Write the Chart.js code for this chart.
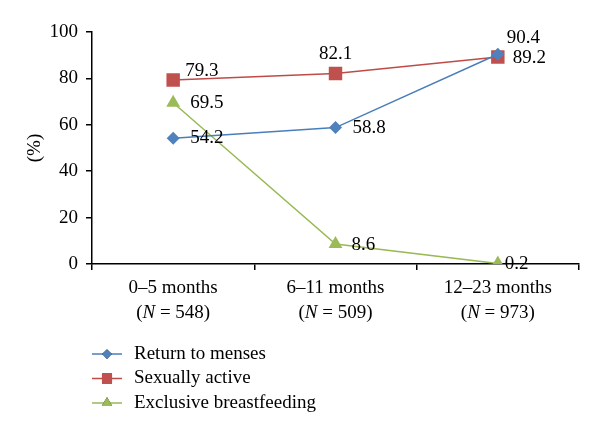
<!DOCTYPE html>
<html>
<head>
<meta charset="utf-8">
<script src="https://cdn.jsdelivr.net/npm/chart.js@4"></script>
<style>
	html, body { margin: 0; padding: 0; background: #fff; }
	#wrap { width: 600px; height: 437px; }
</style>
</head>
<body>
<div id="wrap"><canvas id="chart" width="600" height="437"></canvas></div>
<script>
// categories and group sizes
const ageGroups = ['0–5 months', '6–11 months', '12–23 months'];
const groupN = ['548', '509', '973'];

// series values (%)
const returnToMenses = [54.2, 58.8, 90.4];
const sexuallyActive = [79.3, 82.1, 89.2];
const exclusiveBF = [69.5, 8.6, 0.2];

const yTicks = [0, 20, 40, 60, 80, 100];

const FONT = '"Liberation Serif", "DejaVu Serif", serif';
const SIZE = 19;

// where each value label sits relative to its point [dx, dy]
const labelOffsets = [
	[[17, 0], [17, 0], [9, -16]],
	[[12, -9], [0, -20], [15, 1]],
	[[17, 0], [16, 1], [7, 0]],
];

// draws the x labels (with italic N), the value labels and the legend
const extrasPlugin = {
	id: 'extras',
	afterDraw(chart) {
		const ctx = chart.ctx;
		const xScale = chart.scales.x;
		const bottom = chart.chartArea.bottom;
		const plain = SIZE + 'px ' + FONT;
		const italic = 'italic ' + plain;
		ctx.save();
		ctx.fillStyle = '#000';
		ctx.textBaseline = 'middle';

		// x tick labels
		ageGroups.forEach((label, i) => {
			const x = xScale.getPixelForValue(i);
			ctx.font = plain;
			ctx.textAlign = 'center';
			ctx.fillText(label, x, bottom + 24);

			const parts = ['(', 'N', ' = ' + groupN[i] + ')'];
			const fonts = [plain, italic, plain];
			let total = 0;
			parts.forEach((p, k) => { ctx.font = fonts[k]; total += ctx.measureText(p).width; });
			let cx = x - total / 2;
			ctx.textAlign = 'left';
			parts.forEach((p, k) => {
				ctx.font = fonts[k];
				ctx.fillText(p, cx, bottom + 49);
				cx += ctx.measureText(p).width;
			});
		});

		// value labels
		ctx.font = plain;
		chart.data.datasets.forEach((ds, d) => {
			const meta = chart.getDatasetMeta(d);
			meta.data.forEach((pt, i) => {
				const [dx, dy] = labelOffsets[d][i];
				ctx.textAlign = dx === 0 ? 'center' : 'left';
				ctx.fillText(ds.data[i].toFixed(1), pt.x + dx, pt.y + dy);
			});
		});

		// legend
		chart.data.datasets.forEach((ds, d) => {
			const y = 354 + d * 24.5;
			ctx.strokeStyle = ds.borderColor;
			ctx.lineWidth = 1.5;
			ctx.beginPath();
			ctx.moveTo(92, y);
			ctx.lineTo(122, y);
			ctx.stroke();
			Chart.helpers.drawPoint(ctx, {
				pointStyle: ds.pointStyle,
				radius: ds.pointRadius * 0.75,
				borderWidth: 0,
				rotation: 0,
			}, 107, y);
			ctx.fillStyle = ds.pointBackgroundColor;
			ctx.fill();
			ctx.fillStyle = '#000';
			ctx.textAlign = 'left';
			ctx.fillText(ds.label, 134, y);
		});
		ctx.restore();
	},
};

const ctx = document.getElementById('chart').getContext('2d');
const chart = new Chart(ctx, {
	type: 'line',
	data: {
		labels: ageGroups,
		datasets: [
			{
				label: 'Return to menses',
				data: returnToMenses,
				borderColor: '#4A7EBB',
				borderWidth: 1.5,
				pointStyle: 'rectRot',
				pointRadius: 6.5,
				pointBackgroundColor: '#4F81BD',
				pointBorderWidth: 0,
			},
			{
				label: 'Sexually active',
				data: sexuallyActive,
				borderColor: '#BE4B48',
				borderWidth: 1.5,
				pointStyle: 'rect',
				pointRadius: 9.5,
				pointBackgroundColor: '#C0504D',
				pointBorderWidth: 0,
			},
			{
				label: 'Exclusive breastfeeding',
				data: exclusiveBF,
				borderColor: '#98B954',
				borderWidth: 1.5,
				pointStyle: 'triangle',
				pointRadius: 8,
				pointBackgroundColor: '#9BBB59',
				pointBorderWidth: 0,
			},
		],
	},
	options: {
		responsive: false,
		animation: false,
		layout: { padding: { top: 32, right: 21, left: 0, bottom: 0 } },
		plugins: {
			legend: { display: false },
			tooltip: { enabled: false },
		},
		scales: {
			x: {
				offset: true,
				grid: { offset: true, drawOnChartArea: false, drawTicks: true, tickLength: 6, color: '#000', lineWidth: 1.5 },
				border: { color: '#000', width: 1.5 },
				ticks: { display: false },
				afterFit: s => { s.height = 437 - 264; },
			},
			y: {
				min: 0,
				max: 100,
				afterBuildTicks: s => { s.ticks = yTicks.map(v => ({ value: v })); },
				grid: { drawOnChartArea: false, drawTicks: true, tickLength: 6, color: '#000', lineWidth: 1.5 },
				border: { color: '#000', width: 1.5 },
				ticks: { color: '#000', padding: 8, font: { family: FONT, size: SIZE } },
				title: {
					display: true,
					text: '(%)',
					color: '#000',
					padding: { top: 24, bottom: 0 },
					font: { family: FONT, size: SIZE },
				},
				afterFit: s => { s.width = 92; },
			},
		},
	},
	plugins: [extrasPlugin],
});
</script>
</body>
</html>
